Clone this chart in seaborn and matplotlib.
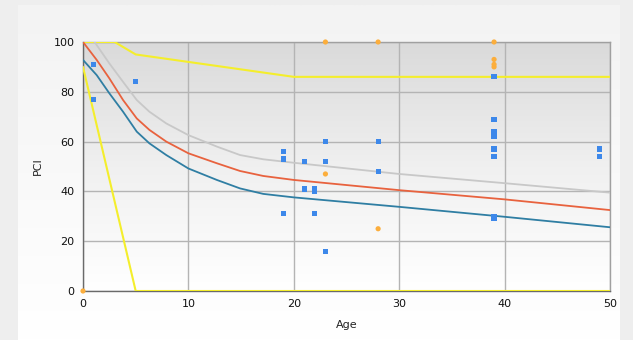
import numpy as np
import pandas as pd
import matplotlib
matplotlib.use("Agg")
import matplotlib.pyplot as plt
import seaborn as sns

# observed points (age, PCI)
blue_age = [1, 1, 5, 19, 19, 19, 21, 21, 22, 22, 22, 23, 23, 23, 28, 28,
            39, 39, 39, 39, 39, 39, 39, 39, 39, 49, 49]
blue_pci = [91, 77, 84, 56, 53, 31, 52, 41, 40, 41, 31, 60, 52, 16, 60, 48,
            86, 69, 64, 62, 57, 54, 30, 29, 63, 57, 54]
orange_age = [0, 23, 28, 39, 39, 39, 39, 23, 28]
orange_pci = [0, 100, 100, 100, 93, 91, 90, 47, 25]

# curves
curve_age = [0, 1.3, 2.5, 3.8, 5.1, 6.3, 7.9, 10, 12.7, 14.9, 17.1, 20, 30, 40, 50]
red_pci = [100, 92.8, 85.4, 76.7, 69.3, 64.7, 60, 55.3, 51.3, 48.2, 46.2,
           44.6, 40.5, 36.8, 32.5]
teal_pci = [92.8, 86.7, 79.4, 72, 64, 59.3, 54.6, 49.2, 44.6, 41.2, 39,
            37.6, 33.8, 29.8, 25.6]
gray_age = [1.1, 2.5, 3.8, 5.1, 6.3, 7.9, 10, 12.7, 14.9, 17.1, 20, 30, 40, 50]
gray_pci = [100, 91.4, 84, 76.7, 72, 67.3, 62.6, 58, 54.6, 52.9, 51.5, 47, 43.3, 39.5]

# upper / lower envelopes
upper_age = [0, 3, 5, 20, 50]
upper_pci = [100, 100, 95, 86, 86]
lower_age = [0, 5, 50]
lower_pci = [90, 0, 0]

sns.set_theme(style="white")
plt.rcParams['font.family'] = ['DejaVu Sans']

fig = plt.figure(figsize=(6.33, 3.4), dpi=100)
fig.patch.set_facecolor("#eeeeee")

# panel background
bg = fig.add_axes([18/633, 0, 602/633, 335/340], zorder=-2)
grad = np.linspace(0, 1, 256).reshape(-1, 1)
bg.imshow(grad, aspect="auto", cmap=matplotlib.colors.LinearSegmentedColormap.from_list(
    "p", ["#ffffff", "#f3f3f3"]), origin="lower", extent=[0, 1, 0, 1])
bg.set_axis_off()

ax = fig.add_axes([83/633, 49/340, 527/633, 249/340])
ax.set_facecolor("none")
ax.imshow(grad, aspect="auto", cmap=matplotlib.colors.LinearSegmentedColormap.from_list(
    "g", ["#ffffff", "#f0f0f0", "#dadada"]), origin="lower",
    extent=[0, 50, 0, 100], zorder=0)

ax.grid(True, color="#b4b4b4", linewidth=1, zorder=1)

sns.lineplot(x=upper_age, y=upper_pci, ax=ax, color="#f4ee2c", linewidth=1.5, zorder=3)
sns.lineplot(x=lower_age, y=lower_pci, ax=ax, color="#f4ee2c", linewidth=1.5, zorder=3)
sns.lineplot(x=gray_age, y=gray_pci, ax=ax, color="#c8c8c8", linewidth=1.3, zorder=3)
sns.lineplot(x=curve_age, y=red_pci, ax=ax, color="#e8623e", linewidth=1.3, zorder=3)
sns.lineplot(x=curve_age, y=teal_pci, ax=ax, color="#2f7ea3", linewidth=1.3, zorder=3)

sns.scatterplot(x=blue_age, y=blue_pci, ax=ax, marker="s", s=14, color="#3d88ea",
                edgecolor="none", zorder=4, clip_on=False)
sns.scatterplot(x=orange_age, y=orange_pci, ax=ax, marker="o", s=14, color="#fcae3c",
                edgecolor="none", zorder=4, clip_on=False)

ax.set_xlim(0, 50)
ax.set_ylim(0, 100)
ax.set_xticks([0, 10, 20, 30, 40, 50])
ax.set_yticks([0, 20, 40, 60, 80, 100])
ax.tick_params(axis="both", labelsize=8, colors="#111111", length=4, width=1,
               direction="out", pad=2)
ax.tick_params(axis="both", color="#555555")
for side in ["left", "bottom"]:
    ax.spines[side].set_color("#6a6a6a")
for side in ["top", "right"]:
    ax.spines[side].set_color("#a0a0a0")
for s in ax.spines.values():
    s.set_linewidth(1)
    s.set_visible(True)

ax.set_xlabel("Age", fontsize=8, color="#222222", labelpad=8)
ax.set_ylabel("PCI", fontsize=8, color="#222222", labelpad=8)

fig.savefig("out.png", dpi=100, facecolor=fig.get_facecolor())
